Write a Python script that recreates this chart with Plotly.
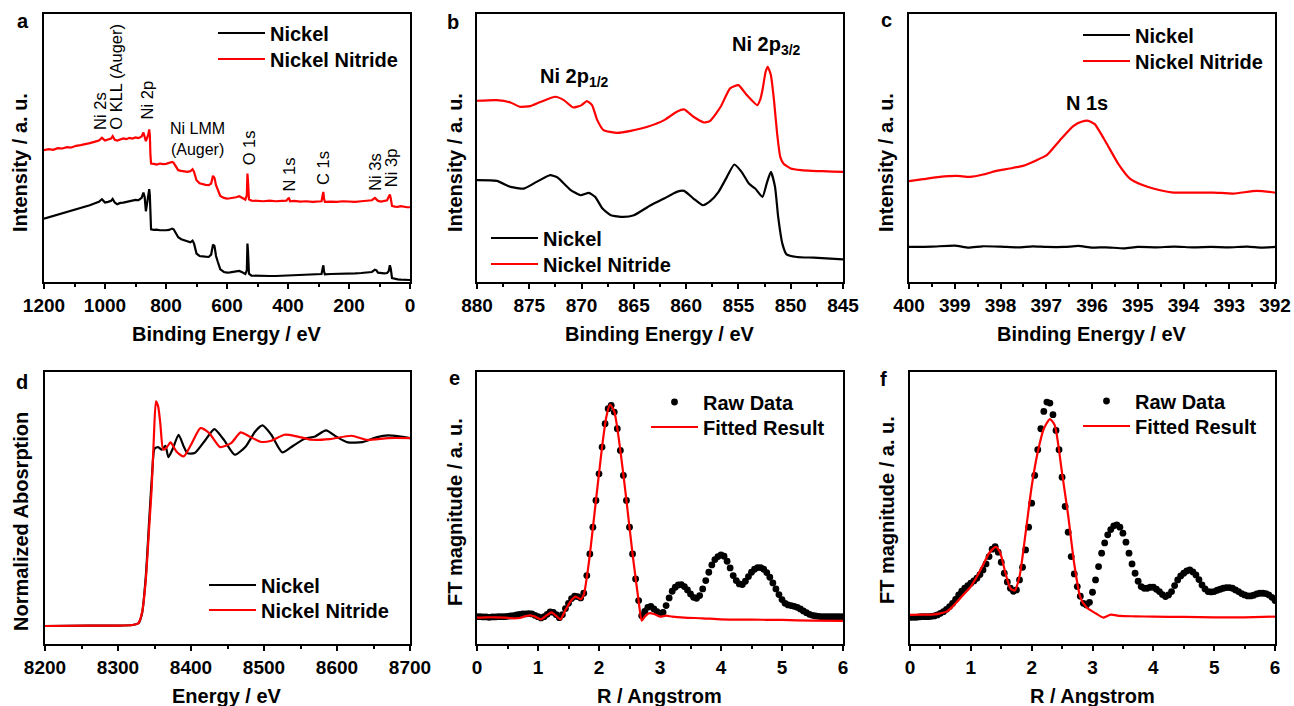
import plotly.graph_objects as go

# ======================= DATA =======================
# Panel a: XPS survey (binding energy, eV) -- arbitrary intensity units
A_ENERGY = [1200, 1185, 1170, 1155, 1140, 1125, 1110, 1095, 1080, 1065,
            1050, 1035, 1020, 1010, 1000, 990, 980, 975, 968, 960,
            950, 940, 930, 920, 910, 900, 890, 880, 874, 870,
            866, 862, 858, 855, 853, 851, 849, 840, 830, 820,
            810, 800, 790, 780, 775, 768, 760, 750, 740, 730,
            720, 713, 708, 700, 690, 680, 670, 660, 652, 646,
            641, 636, 630, 622, 610, 600, 590, 580, 570, 560,
            550, 540, 535, 533, 531, 528, 520, 500, 480, 460,
            440, 420, 405, 400, 397, 393, 380, 360, 340, 320,
            300, 290, 286, 284, 282, 279, 260, 240, 220, 200,
            180, 160, 140, 125, 115, 110, 105, 95, 85, 75,
            70, 66, 63, 59, 50, 40, 30, 20, 10, 0]
A_NITRIDE = [395, 398, 396, 401, 400, 404, 403, 408, 410, 412,
             416, 420, 424, 432, 424, 427, 430, 437, 426, 424,
             427, 430, 428, 432, 430, 433, 431, 436, 448, 438,
             422, 432, 442, 457, 440, 380, 355, 354, 352, 355,
             353, 354, 356, 360, 357, 345, 335, 333, 331, 330,
             332, 338, 330, 305, 296, 293, 291, 290, 295, 318,
             312, 290, 275, 258, 252, 250, 251, 252, 254, 257,
             252, 247, 260, 325, 300, 248, 244, 243, 242, 244,
             242, 243, 244, 250, 251, 242, 243, 241, 242, 240,
             241, 242, 262, 270, 250, 240, 241, 240, 242, 241,
             240, 242, 243, 245, 252, 248, 243, 241, 243, 245,
             255, 262, 250, 228, 226, 225, 227, 225, 224, 224]
A_NICKEL = [190, 194, 196, 200, 204, 208, 213, 216, 220, 226,
            230, 235, 240, 248, 238, 240, 243, 249, 238, 233,
            237, 238, 240, 242, 244, 246, 245, 252, 268, 255,
            212, 235, 255, 278, 260, 190, 158, 156, 157, 155,
            154, 155, 156, 160, 158, 148, 134, 128, 125, 121,
            119, 124, 115, 85, 78, 77, 76, 75, 82, 112,
            108, 78, 60, 38, 30, 28, 29, 30, 31, 33,
            29, 24, 35, 115, 90, 25, 19, 18, 17, 18,
            18, 19, 19, 19, 20, 19, 20, 20, 21, 22,
            23, 24, 43, 50, 32, 23, 24, 24, 25, 25,
            26, 27, 28, 30, 37, 35, 28, 26, 26, 27,
            32, 50, 40, 12, 9, 8, 7, 7, 6, 6]
A_TICKS = [1200, 1000, 800, 600, 400, 200, 0]
A_LABELS = ["Ni 2s", "O KLL (Auger)", "Ni 2p", "O 1s", "N 1s", "C 1s", "Ni 3s", "Ni 3p"]
A_LABEL_E = [1016, 964, 862, 528, 397, 285, 115, 62]
A_LABEL_Y = [450, 450, 480, 345, 265, 285, 267, 277]
A_LMM_LABEL = "Ni LMM<br>(Auger)"
A_LMM_E, A_LMM_Y = 698, 427

# Panel b: Ni 2p
B_E_NITRIDE = [880, 878.1, 876.8, 875.9, 874.9, 873.9, 872.5, 871.7, 870.8, 870.0,
               869.5, 869.0, 868.5, 867.9, 866.6, 865.3, 863.7, 862.1, 860.9, 860.2,
               859.3, 858.3, 857.7, 856.7, 855.8, 855.0, 854.2, 853.2, 852.9, 852.7,
               852.4, 852.2, 851.9, 851.6, 851.3, 851.0, 850.7, 850.0, 849, 848,
               847, 846, 845]
B_I_NITRIDE = [543, 545, 538, 525, 527, 540, 555, 545, 523, 530,
               542, 530, 485, 455, 447, 453, 465, 485, 510, 517,
               495, 478, 483, 525, 580, 590, 560, 530, 548, 575,
               630, 645, 620, 545, 445, 375, 355, 340, 335, 333,
               332, 331, 330]
B_E_NICKEL = [880, 878.1, 876.8, 875.5, 874.3, 873.0, 872.3, 871.1, 870.1, 869.3,
              868.7, 868.0, 867.2, 866.0, 865.0, 863.4, 862.1, 860.9, 860.2, 859.3,
              858.4, 857.7, 856.9, 856.1, 855.4, 854.7, 854.0, 853.4, 852.7, 852.3,
              851.9, 851.5, 851.2, 850.8, 850.4, 849.4, 847.8, 846.2, 845]
B_I_NICKEL = [305, 303, 285, 280, 300, 320, 313, 277, 260, 267,
              255, 220, 200, 195, 200, 230, 250, 270, 273, 250,
              230, 242, 270, 315, 352, 330, 295, 280, 255, 295,
              330, 285, 195, 115, 83, 75, 73, 70, 68]
B_TICKS = [880, 875, 870, 865, 860, 855, 850, 845]
B_LABELS = ["Ni 2p<sub>1/2</sub>", "Ni 2p<sub>3/2</sub>"]
B_LABEL_E = [874.2, 855.8]
B_LABEL_Y = [613, 710]

# Panel c: N 1s
C_E_NITRIDE = [400, 399.69, 399.33, 398.96, 398.67, 398.38, 398.09, 397.8, 397.51, 397.21,
               396.99, 396.7, 396.41, 396.23, 396.08, 395.94, 395.68, 395.43, 395.17, 394.88,
               394.51, 394.22, 393.79, 393.35, 392.91, 392.4, 392.0]
C_I_NITRIDE = [302, 308, 315, 318, 315, 322, 333, 340, 348, 365,
               380, 425, 467, 480, 483, 473, 415, 355, 310, 290,
               275, 268, 268, 268, 265, 273, 268]
C_E_NICKEL = [400, 399.5, 399.0, 398.7, 398.4, 398.0, 397.6, 397.3, 397.0, 396.6,
              396.3, 396.0, 395.7, 395.3, 395.0, 394.6, 394.2, 393.8, 393.4, 393.0,
              392.6, 392.3, 392.0]
C_I_NICKEL = [105, 106, 109, 103, 107, 106, 104, 107, 105, 105,
              108, 103, 104, 101, 105, 104, 106, 104, 105, 104,
              106, 103, 105]
C_TICKS = [400, 399, 398, 397, 396, 395, 394, 393, 392]
C_LABEL = "N 1s"
C_LABEL_E, C_LABEL_Y = 396.12, 535

# Panel d: XANES
D_E_NICKEL = [8200, 8260, 8300, 8320, 8328, 8333, 8338, 8343, 8347, 8350,
              8355, 8360, 8365, 8369, 8375, 8383, 8390, 8395, 8405, 8420,
              8432, 8445, 8460, 8475, 8488, 8498, 8510, 8525, 8540, 8555,
              8570, 8585, 8600, 8615, 8635, 8655, 8670, 8685, 8700]
D_A_NICKEL = [54, 55, 55, 57, 62, 92, 200, 380, 520, 585,
              590, 582, 594, 560, 585, 627, 592, 572, 572, 612,
              644, 612, 567, 592, 637, 655, 627, 574, 594, 614,
              622, 640, 620, 604, 605, 620, 625, 622, 617]
D_E_NITRIDE = [8200, 8260, 8300, 8320, 8328, 8333, 8338, 8343, 8346, 8349,
               8352, 8355, 8358, 8362, 8367, 8372, 8380, 8390, 8400, 8413,
               8425, 8440, 8455, 8468, 8480, 8495, 8510, 8528, 8545, 8565,
               8590, 8620, 8640, 8670, 8700]
D_A_NITRIDE = [54, 55, 55, 57, 62, 95, 190, 360, 462, 612,
               727, 712, 660, 582, 590, 604, 577, 562, 597, 647,
               632, 590, 602, 634, 622, 606, 609, 627, 622, 612,
               614, 624, 612, 617, 617]
D_TICKS = [8200, 8300, 8400, 8500, 8600, 8700]

# Panels e, f: FT-EXAFS
R_RAW = [round(0.05 * k, 2) for k in range(121)]
E_RAW = [82, 82, 81, 81, 80, 81, 81, 82, 82, 82,
         83, 84, 85, 87, 89, 90, 90, 91, 90, 86,
         82, 78, 82, 89, 96, 95, 88, 79, 88, 106,
         122, 136, 143, 142, 138, 152, 205, 270, 350, 430,
         510, 590, 660, 705, 715, 695, 645, 580, 505, 430,
         350, 270, 195, 130, 85, 98, 110, 113, 105, 97,
         92, 95, 115, 138, 158, 170, 177, 178, 172, 162,
         150, 140, 137, 145, 165, 190, 215, 237, 253, 262,
         267, 263, 248, 228, 205, 190, 180, 178, 188, 202,
         215, 224, 229, 229, 224, 214, 200, 183, 165, 148,
         133, 122, 117, 115, 113, 110, 105, 99, 94, 89,
         86, 84, 83, 82, 82, 82, 82, 82, 82, 82,
         82]
E_FIT_R = [0, 0.15, 0.3, 0.45, 0.6, 0.7, 0.8, 0.88, 0.95, 1.05,
           1.15, 1.22, 1.3, 1.37, 1.45, 1.55, 1.62, 1.7, 1.75, 1.8,
           1.85, 1.95, 2.05, 2.12, 2.18, 2.25, 2.35, 2.45, 2.55, 2.65,
           2.7, 2.75, 2.82, 2.9, 3.0, 3.1, 3.2, 3.4, 3.7, 4.0,
           4.5, 5.0, 5.5, 6.0]
E_FIT = [79, 80, 80, 79, 77, 78, 84, 86, 82, 74,
         87, 95, 84, 74, 102, 132, 142, 134, 147, 200,
         268, 430, 590, 680, 717, 697, 580, 430, 270, 128,
         70, 82, 92, 90, 82, 85, 82, 79, 77, 74,
         73, 72, 70, 69]
F_RAW = [80, 80, 80, 81, 82, 82, 82, 83, 84, 87,
         92, 97, 104, 112, 122, 134, 147, 158, 167, 175,
         182, 189, 197, 208, 222, 240, 262, 284, 292, 275,
         245, 212, 186, 167, 158, 162, 192, 230, 282, 350,
         422, 505, 582, 645, 697, 725, 722, 687, 640, 582,
         500, 412, 335, 262, 210, 172, 143, 122, 117, 125,
         155, 192, 232, 272, 303, 327, 343, 354, 357, 350,
         332, 305, 272, 240, 212, 188, 172, 167, 167, 170,
         170, 164, 157, 148, 142, 147, 157, 175, 192, 204,
         212, 219, 222, 216, 207, 193, 177, 165, 157, 156,
         157, 161, 164, 167, 169, 169, 167, 162, 157, 151,
         147, 144, 144, 146, 150, 152, 152, 151, 147, 140,
         130]
F_FIT_R = [0, 0.2, 0.4, 0.5, 0.6, 0.7, 0.8, 0.9, 1.0, 1.1,
           1.2, 1.3, 1.41, 1.48, 1.57, 1.65, 1.72, 1.8, 1.9, 2.0,
           2.1, 2.2, 2.3, 2.38, 2.5, 2.6, 2.7, 2.8, 2.9, 3.05,
           3.18, 3.3, 3.45, 3.7, 4.0, 4.5, 5.0, 5.5, 6.0]
F_FIT = [87, 88, 89, 92, 97, 112, 132, 152, 172, 202,
         237, 272, 291, 275, 212, 167, 160, 202, 332, 472,
         575, 645, 674, 655, 512, 385, 240, 140, 110, 92,
         79, 88, 84, 83, 82, 81, 80, 80, 82]
R_TICKS = [0, 1, 2, 3, 4, 5, 6]

SERIES_NAMES = ["Nickel", "Nickel Nitride"]
FIT_NAMES = ["Raw Data", "Fitted Result"]

# ======================= STYLE / LAYOUT =======================
W, H = 1294, 706
FONT = "Liberation Sans, Arial, sans-serif"
RED = "#ff0000"
BLACK = "#000000"
LW = 2.2

BOXES = [(44, 14, 410, 282), (477, 14, 843, 282), (909, 14, 1275, 282),
         (45, 372, 410, 644), (477, 372, 843, 644), (910, 372, 1275, 644)]
X_RANGES = [[1200, 0], [880, 845], [400, 392], [8200, 8700], [0, 6], [0, 6]]
Y_RANGES = [[0, 803], [0, 803], [0, 803], [0, 815], [0, 815], [0, 815]]
X_TICKS = [A_TICKS, B_TICKS, C_TICKS, D_TICKS, R_TICKS, R_TICKS]
MINOR_DT = [100, 2.5, 0.5, 50, 0.5, 0.5]
MINOR_T0 = [0, 845, 392, 8200, 0, 0]

# legend positions: (text start x, row center y) per panel
LEG_POS = [(270, [33, 59]), (543, [238, 264]), (1135, [35, 61]),
           (261, [585, 610]), (703, [402, 427]), (1135, [401, 426])]
ITEMW = 47

def sfx(i):
    return "" if i == 0 else str(i + 1)

def leg_name(p, k):
    n = 2 * p + k + 1
    return "legend" if n == 1 else f"legend{n}"

fig = go.Figure()

def line_trace(p, k, x, y, name, color, shape="linear", smoothing=0.6):
    s = sfx(p)
    fig.add_trace(go.Scatter(
        x=x, y=y, mode="lines", name=name,
        line=dict(color=color, width=LW, shape=shape, smoothing=smoothing),
        xaxis="x" + s, yaxis="y" + s, legend=leg_name(p, k)))

def dot_trace(p, k, x, y, name):
    s = sfx(p)
    fig.add_trace(go.Scatter(
        x=x, y=y, mode="markers", name=name,
        marker=dict(color=BLACK, size=6.8, line=dict(width=0)),
        xaxis="x" + s, yaxis="y" + s, legend=leg_name(p, k)))

# panel a
line_trace(0, 0, A_ENERGY, A_NICKEL, SERIES_NAMES[0], BLACK)
line_trace(0, 1, A_ENERGY, A_NITRIDE, SERIES_NAMES[1], RED)
# panel b
line_trace(1, 0, B_E_NICKEL, B_I_NICKEL, SERIES_NAMES[0], BLACK, "spline", 0.5)
line_trace(1, 1, B_E_NITRIDE, B_I_NITRIDE, SERIES_NAMES[1], RED, "spline", 0.5)
# panel c
line_trace(2, 0, C_E_NICKEL, C_I_NICKEL, SERIES_NAMES[0], BLACK, "spline", 0.5)
line_trace(2, 1, C_E_NITRIDE, C_I_NITRIDE, SERIES_NAMES[1], RED, "spline", 0.5)
# panel d
line_trace(3, 0, D_E_NICKEL, D_A_NICKEL, SERIES_NAMES[0], BLACK, "spline", 0.6)
line_trace(3, 1, D_E_NITRIDE, D_A_NITRIDE, SERIES_NAMES[1], RED, "spline", 0.6)
# panel e
dot_trace(4, 0, R_RAW, E_RAW, FIT_NAMES[0])
line_trace(4, 1, E_FIT_R, E_FIT, FIT_NAMES[1], RED, "spline", 0.6)
# panel f
dot_trace(5, 0, R_RAW, F_RAW, FIT_NAMES[0])
line_trace(5, 1, F_FIT_R, F_FIT, FIT_NAMES[1], RED, "spline", 0.6)

layout = dict(
    template="none",
    width=W, height=H, margin=dict(l=0, r=0, t=0, b=0, autoexpand=False),
    paper_bgcolor="white", plot_bgcolor="white",
    font=dict(family=FONT, color=BLACK),
    showlegend=True, hovermode=False,
)

tickfont = dict(family=FONT, size=19, color=BLACK, weight="bold")
for i in range(6):
    x0, y0, x1, y1 = BOXES[i]
    s = sfx(i)
    layout["xaxis" + s] = dict(
        domain=[x0 / W, x1 / W], anchor="y" + s, range=X_RANGES[i], automargin=False,
        tickmode="array", tickvals=X_TICKS[i], ticks="outside", ticklen=5,
        tickwidth=2, tickcolor=BLACK, showline=True, linewidth=2,
        linecolor=BLACK, mirror=True, showgrid=False, zeroline=False,
        tickfont=tickfont,
        minor=dict(ticks="outside", ticklen=3, tickwidth=1.5, tickcolor=BLACK,
                   tickmode="linear", tick0=MINOR_T0[i], dtick=MINOR_DT[i]))
    layout["yaxis" + s] = dict(
        domain=[1 - y1 / H, 1 - y0 / H], anchor="x" + s, range=Y_RANGES[i],
        automargin=False, showticklabels=False, ticks="", showline=True, linewidth=2,
        linecolor=BLACK, mirror=True, showgrid=False, zeroline=False)

for p in range(6):
    tx, rows = LEG_POS[p]
    for k in range(2):
        layout[leg_name(p, k)] = dict(
            x=(tx - ITEMW - 10) / W, y=1 - (rows[k] - 19.5) / H,
            xanchor="left", yanchor="top", bgcolor="rgba(0,0,0,0)",
            borderwidth=0, itemwidth=ITEMW,
            font=dict(family=FONT, size=20, color=BLACK, weight="bold"))

fig.update_layout(**layout)

ann = []
def paper_text(text, px, py, size=20, bold=True, angle=0):
    ann.append(dict(text=text, x=px / W, y=1 - py / H, xref="paper", yref="paper",
                    xanchor="center", yanchor="middle", showarrow=False, textangle=angle,
                    font=dict(family=FONT, size=size, color=BLACK,
                              weight="bold" if bold else "normal")))

# axis titles
for (t, px, py) in [("Binding Energy / eV", 227, 334), ("Binding Energy / eV", 660, 334),
                    ("Binding Energy / eV", 1092, 334), ("Energy / eV", 227, 696),
                    ("R / Angstrom", 660, 696), ("R / Angstrom", 1092, 696)]:
    paper_text(t, px, py)
for (t, px, py) in [("Intensity / a. u.", 20, 163), ("Intensity / a. u.", 455, 163),
                    ("Intensity / a. u.", 886, 163), ("Normalized Abosrption", 21, 522),
                    ("FT magnitude / a. u.", 455, 512), ("FT magnitude / a. u.", 887, 510)]:
    paper_text(t, px, py, angle=-90)
# panel letters
for (t, px, py) in [("a", 23, 21), ("b", 453, 22), ("c", 887, 20),
                    ("d", 22, 382), ("e", 454, 378), ("f", 883, 379)]:
    paper_text(t, px, py, size=20)

# panel a peak labels
for t, e, v in zip(A_LABELS, A_LABEL_E, A_LABEL_Y):
    ann.append(dict(text=t, x=e, y=v, xref="x", yref="y", xanchor="center",
                    yanchor="bottom", textangle=-90, showarrow=False,
                    font=dict(family=FONT, size=16.5, color=BLACK)))
ann.append(dict(text=A_LMM_LABEL, x=A_LMM_E, y=A_LMM_Y, xref="x", yref="y",
                xanchor="center", yanchor="middle", showarrow=False, align="center",
                font=dict(family=FONT, size=16, color=BLACK)))
# panel b labels
for t, e, v in zip(B_LABELS, B_LABEL_E, B_LABEL_Y):
    ann.append(dict(text=t, x=e, y=v, xref="x2", yref="y2", xanchor="left",
                    yanchor="middle", showarrow=False,
                    font=dict(family=FONT, size=20, color=BLACK, weight="bold")))
# panel c label
ann.append(dict(text=C_LABEL, x=C_LABEL_E, y=C_LABEL_Y, xref="x3", yref="y3",
                xanchor="center", yanchor="middle", showarrow=False,
                font=dict(family=FONT, size=20, color=BLACK, weight="bold")))

fig.update_layout(annotations=ann)

fig.write_html("out.html", config={"displayModeBar": False},
               post_script="document.body.style.margin='0px';")
